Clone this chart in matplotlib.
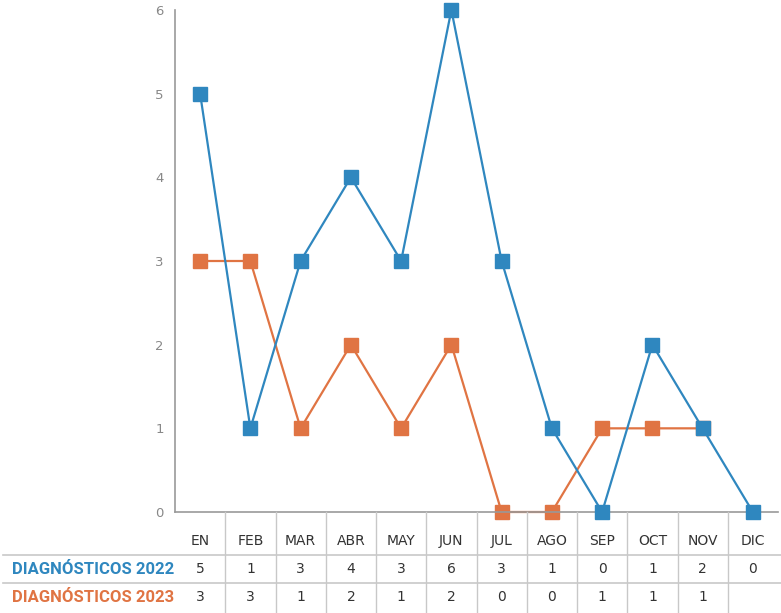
import matplotlib
matplotlib.use("Agg")
import matplotlib.pyplot as plt
from matplotlib.transforms import blended_transform_factory
from matplotlib.lines import Line2D

# ------------------------------------------------------------
# Data
# ------------------------------------------------------------
months = ["EN", "FEB", "MAR", "ABR", "MAY", "JUN", "JUL", "AGO", "SEP", "OCT", "NOV", "DIC"]
diag_2022 = [5, 1, 3, 4, 3, 6, 3, 1, 0, 2, 1, 0]
diag_2023 = [3, 3, 1, 2, 1, 2, 0, 0, 1, 1, 1]
# values printed in the table under the chart
table_2022 = ["5", "1", "3", "4", "3", "6", "3", "1", "0", "1", "2", "0"]
table_2023 = ["3", "3", "1", "2", "1", "2", "0", "0", "1", "1", "1", ""]
row_labels = ["DIAGNÓSTICOS 2022", "DIAGNÓSTICOS 2023"]

BLUE = "#2f87bf"
ORANGE = "#e07443"
GRID = "#c8c8c8"
TEXT = "#333333"

W, H = 781, 613
narrow = ["Liberation Sans Narrow", "DejaVu Sans"]

fig = plt.figure(figsize=(W / 100, H / 100), dpi=100)
fig.patch.set_facecolor("white")

# plot area in pixel coordinates: left 175, right 778, top 10, bottom 512
ax = fig.add_axes([175 / W, (H - 512) / H, (778 - 175) / W, (512 - 10) / H])
x = list(range(len(months)))

ax.plot(x, diag_2022, color=BLUE, lw=1.6, marker="s", ms=9.5, mec=BLUE, mfc=BLUE,
        clip_on=False, zorder=3)
ax.plot(x[:len(diag_2023)], diag_2023, color=ORANGE, lw=1.6, marker="s", ms=9.5,
        mec=ORANGE, mfc=ORANGE, clip_on=False, zorder=2)

ax.set_xlim(-0.5, len(months) - 0.5)
ax.set_ylim(0, 6)
ax.set_yticks(range(0, 7))
ax.set_xticks([])
ax.tick_params(axis="y", length=0, pad=8, labelsize=9.5, labelcolor="#888888")
for lab in ax.get_yticklabels():
    lab.set_family(narrow)
for side in ["top", "right"]:
    ax.spines[side].set_visible(False)
ax.spines["left"].set_color("#999999")
ax.spines["bottom"].set_color("#999999")
ax.spines["left"].set_linewidth(1.2)
ax.spines["bottom"].set_linewidth(1.2)

# ------------------------------------------------------------
# Data table below the chart
# ------------------------------------------------------------
trans = blended_transform_factory(ax.transData, fig.transFigure)


def fy(py):
    return (H - py) / H


# vertical cell borders
for i in range(len(months) - 1):
    fig.add_artist(Line2D([i + 0.5, i + 0.5], [fy(512), fy(613)], transform=trans,
                          color=GRID, lw=1))
# horizontal row borders
for py in [555, 583]:
    fig.add_artist(Line2D([3 / W, 1], [fy(py), fy(py)], transform=fig.transFigure,
                          color=GRID, lw=1.2))

for i, m in enumerate(months):
    ax.text(i, fy(541), m, transform=trans, ha="center", va="center",
            fontsize=10, color=TEXT, family=narrow)
    ax.text(i, fy(569), table_2022[i], transform=trans, ha="center", va="center",
            fontsize=10, color=TEXT, family=narrow)
    ax.text(i, fy(597), table_2023[i], transform=trans, ha="center", va="center",
            fontsize=10, color=TEXT, family=narrow)

fig.text(174 / W, fy(569), row_labels[0], ha="right", va="center", fontsize=12,
         fontweight="bold", color=BLUE, family=["Roboto", "DejaVu Sans"])
fig.text(174 / W, fy(597), row_labels[1], ha="right", va="center", fontsize=12,
         fontweight="bold", color=ORANGE, family=["Roboto", "DejaVu Sans"])

fig.savefig("out.png", dpi=100)
